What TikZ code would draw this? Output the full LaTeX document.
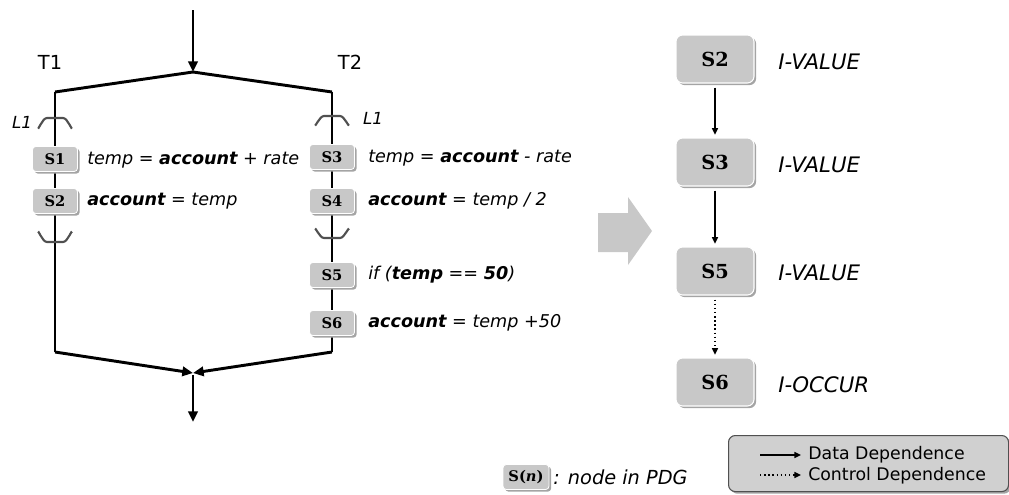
\documentclass[tikz,border=0pt]{standalone}
\usepackage{fontspec}
\setmainfont{DejaVu Sans}
\newfontfamily\labelfont{DejaVu Serif}
\usetikzlibrary{arrows.meta,shadows,positioning}
\definecolor{boxgray}{HTML}{C8C8C8}
\definecolor{shadegray}{HTML}{A4A4A4}
\definecolor{bracegray}{HTML}{505050}
\begin{document}
\begin{tikzpicture}[x=0.75pt,y=-0.75pt,
  flow/.style={line width=2.2pt},
  flowarrow/.style={flow,-{Triangle[length=8pt,width=7pt]}},
  brace/.style={line width=1.6pt,draw=bracegray},
  dep/.style={line width=1.1pt,-{Triangle[length=5pt,width=4.5pt]}},
  ctrl/.style={dep,dotted},
  boxshadow/.style={drop shadow={shadow xshift=1.6pt,shadow yshift=-1.6pt,fill=shadegray,opacity=1}},
  smallbox/.style={draw=white,line width=0.6pt,fill=boxgray,rounded corners=2.5pt,
    minimum width=33.75pt,minimum height=18.75pt,inner sep=0pt,boxshadow,
    font=\labelfont\bfseries\fontsize{11}{13}\selectfont},
  bigbox/.style={draw=white,line width=0.8pt,fill=boxgray,rounded corners=5pt,
    minimum width=58.5pt,minimum height=36pt,inner sep=0pt,boxshadow,
    font=\labelfont\bfseries\fontsize{14.5}{16}\selectfont},
  code/.style={anchor=west,inner sep=0pt,font=\itshape\fontsize{13.2}{15}\selectfont},
  thread/.style={inner sep=0pt,font=\fontsize{14.5}{16}\selectfont},
  loop/.style={inner sep=0pt,font=\itshape\fontsize{12.5}{14}\selectfont},
  kind/.style={anchor=west,inner sep=0pt,font=\itshape\fontsize{16}{18}\selectfont},
  legendtext/.style={anchor=west,inner sep=0pt,font=\fontsize{13}{15}\selectfont},
]
\useasboundingbox (0,0) rectangle (1009,494);

% ---------- fork / join skeleton ----------
\coordinate (start) at (193,10);
\coordinate (fork) at (193,72);
\coordinate (t1top) at (55,92);
\coordinate (t2top) at (332,92);
\coordinate (t1bot) at (55,352);
\coordinate (t2bot) at (332,352);
\coordinate (join) at (193,373);
\coordinate (joinout) at (193,375);
\coordinate (finish) at (193,422);

\draw[flowarrow] (start) -- (fork);
\draw[flow,line join=miter] (t1top) -- (fork) -- (t2top);
\draw[flow] (t1top) -- (t1bot);
\draw[flow] (t2top) -- (t2bot);
\draw[flowarrow] (t1bot) -- (join);
\draw[flowarrow] (t2bot) -- (join);
\draw[flowarrow] (joinout) -- (finish);

\node[thread] (T1) at (50,62) {T1};
\node[thread] (T2) at (350,62) {T2};

% ---------- loop braces ----------
\draw[brace] (38,127) to[out=-90,in=180] (47,118) -- (63,118) to[out=0,in=-90] (72,127);
\draw[brace] (38,233) to[out=90,in=180] (47,242) -- (63,242) to[out=0,in=90] (72,233);
\draw[brace] (315,124) to[out=-90,in=180] (324,116) -- (340,116) to[out=0,in=-90] (349,124);
\draw[brace] (315,230) to[out=90,in=180] (324,238) -- (340,238) to[out=0,in=90] (349,230);
\node[loop] (L1a) at (22,122) {L1};
\node[loop] (L1b) at (373,118) {L1};

% ---------- statements of T1 ----------
\node[smallbox] (s1) at (55,159) {S1};
\node[smallbox] (s2) at (55,201) {S2};
\node[code] (c1) at (87,160) {temp = \textbf{account} + rate};
\node[code] (c2) at (87,201) {\textbf{account} = temp};

% ---------- statements of T2 ----------
\node[smallbox] (s3) at (332,157) {S3};
\node[smallbox] (s4) at (332,201) {S4};
\node[smallbox] (s5) at (332,275) {S5};
\node[smallbox] (s6) at (332,323) {S6};
\node[code] (c3) at (368,158) {temp = \textbf{account} - rate};
\node[code] (c4) at (368,201) {\textbf{account} = temp / 2};
\node[code] (c5) at (368,275) {if (\textbf{temp} == \textbf{50})};
\node[code] (c6) at (368,323) {\textbf{account} = temp +50};

% ---------- transformation arrow ----------
\fill[boxgray] (598,213) -- (628,213) -- (628,197) -- (652,231) -- (628,265) -- (628,252) -- (598,252) -- cycle;

% ---------- dependence graph ----------
\node[bigbox] (p2) at (715,59) {S2};
\node[bigbox] (p3) at (715,162) {S3};
\node[bigbox] (p5) at (715,271) {S5};
\node[bigbox] (p6) at (715,382) {S6};
\node[kind] (k2) at (778,62) {I-VALUE};
\node[kind] (k3) at (778,165) {I-VALUE};
\node[kind] (k5) at (778,273) {I-VALUE};
\node[kind] (k6) at (778,385) {I-OCCUR};
\draw[dep] ([yshift=-3pt]p2.south) -- ([yshift=2pt]p3.north);
\draw[dep] ([yshift=-3pt]p3.south) -- ([yshift=2pt]p5.north);
\draw[ctrl] ([yshift=-3pt]p5.south) -- ([yshift=2pt]p6.north);

% ---------- key ----------
\node[smallbox,minimum width=34.5pt] (sn) at (526,477) {S(\textit{n})};
\node[anchor=west,inner sep=0pt,font=\itshape\fontsize{14.5}{16}\selectfont] (sntext) at (553,477) {: node in PDG};

\node[draw=bracegray,line width=0.8pt,fill=boxgray!85,rounded corners=5pt,
  minimum width=210pt,minimum height=42pt,anchor=north west,boxshadow] (legend) at (728,435) {};
\coordinate (d0) at (760,455);
\coordinate (d1) at (801,455);
\coordinate (e0) at (760,475);
\coordinate (e1) at (801,475);
\draw[dep] (d0) -- (d1);
\draw[ctrl] (e0) -- (e1);
\node[legendtext] (dtext) at (808,455) {Data Dependence};
\node[legendtext] (ctext) at (808,476) {Control Dependence};
\end{tikzpicture}
\end{document}
